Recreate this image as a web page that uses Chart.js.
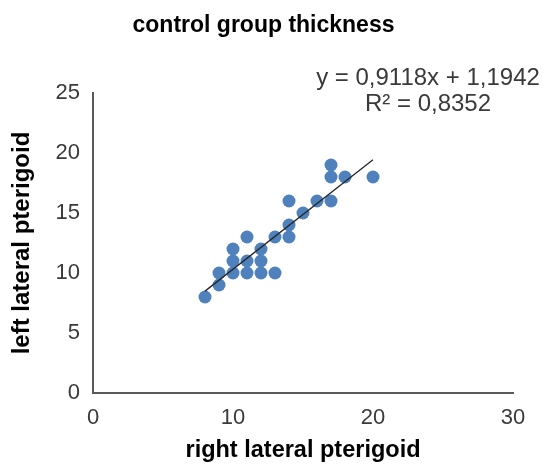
<!DOCTYPE html>
<html lang="en">
<head>
    <meta charset="UTF-8">
    <title>control group thickness</title>
    <script src="https://cdn.jsdelivr.net/npm/chart.js"></script>
    <style>
        html, body {
            margin: 0;
            padding: 0;
            background: #ffffff;
        }
        .wrap {
            width: 544px;
            height: 465px;
        }
    </style>
</head>
<body>
    <div class="wrap">
        <canvas id="scatterChart" width="544" height="465"></canvas>
    </div>

    <script>
        // values
        const rightPterigoid = [8, 9, 9, 10, 11, 12, 13, 10, 11, 12, 10, 12, 11, 13, 14, 14, 15, 14, 16, 17, 17, 18, 20, 17];
        const leftPterigoid  = [8, 9, 10, 10, 10, 10, 10, 11, 11, 11, 12, 12, 13, 13, 13, 14, 15, 16, 16, 16, 18, 18, 18, 19];

        // linear trend line ends (y = 0,9118x + 1,1942 over the data range)
        const trendX = [8, 20];
        const trendY = [8.49, 19.43];

        const xTicks = [0, 10, 20, 30];
        const yTicks = [0, 5, 10, 15, 20, 25];

        const equationLines = ['y = 0,9118x + 1,1942', 'R\u00B2 = 0,8352'];

        const points = rightPterigoid.map((x, i) => ({ x: x, y: leftPterigoid[i] }));
        const trend = trendX.map((x, i) => ({ x: x, y: trendY[i] }));

        const fontFamily = '"Liberation Sans", Arial, sans-serif';
        const axisColor = '#595959';
        const textColor = '#3a3a3a';

        // draws the trend line equation at the top right
        const equationLabel = {
            id: 'equationLabel',
            afterDraw(chart) {
                const ctx = chart.ctx;
                ctx.save();
                ctx.font = '24px ' + fontFamily;
                ctx.fillStyle = textColor;
                ctx.textAlign = 'center';
                ctx.textBaseline = 'middle';
                ctx.fillText(equationLines[0], 428, 78);
                ctx.fillText(equationLines[1], 428, 104);
                ctx.restore();
            }
        };

        const ctx = document.getElementById('scatterChart').getContext('2d');
        new Chart(ctx, {
            type: 'scatter',
            data: {
                datasets: [
                    {
                        label: 'left lateral pterigoid',
                        data: points,
                        backgroundColor: '#4f81bd',
                        borderWidth: 0,
                        pointRadius: 6.5,
                        order: 2
                    },
                    {
                        label: 'Linear trend',
                        type: 'line',
                        data: trend,
                        borderColor: '#262626',
                        borderWidth: 1.3,
                        pointRadius: 0,
                        fill: false,
                        order: 1
                    }
                ]
            },
            options: {
                responsive: false,
                animation: false,
                layout: {
                    // left padding moves the title to the right, y scale width makes up for it
                    padding: { left: 14, right: 31, top: 0, bottom: 0 }
                },
                plugins: {
                    legend: { display: false },
                    tooltip: { enabled: false },
                    title: {
                        display: true,
                        text: 'control group thickness',
                        color: '#000000',
                        font: { family: fontFamily, size: 23, weight: 'bold', lineHeight: 1.2 },
                        padding: { top: 12, bottom: 53.4 }
                    }
                },
                scales: {
                    x: {
                        type: 'linear',
                        min: 0,
                        max: 30,
                        afterBuildTicks(scale) {
                            scale.ticks = xTicks.map(v => ({ value: v }));
                        },
                        afterFit(scale) {
                            scale.height = 72;
                        },
                        grid: { display: false, drawTicks: false },
                        border: { display: true, color: axisColor, width: 2 },
                        ticks: {
                            color: textColor,
                            padding: 12,
                            font: { family: fontFamily, size: 22 }
                        },
                        title: {
                            display: true,
                            text: 'right lateral pterigoid',
                            color: '#000000',
                            padding: { top: 0, bottom: 0 },
                            font: { family: fontFamily, size: 23.5, weight: 'bold', lineHeight: 1.2 }
                        }
                    },
                    y: {
                        type: 'linear',
                        min: 0,
                        max: 25,
                        afterBuildTicks(scale) {
                            scale.ticks = yTicks.map(v => ({ value: v }));
                        },
                        afterFit(scale) {
                            scale.width = 79;
                        },
                        grid: { display: false, drawTicks: false },
                        border: { display: true, color: axisColor, width: 2 },
                        ticks: {
                            color: textColor,
                            padding: 13,
                            font: { family: fontFamily, size: 22 }
                        },
                        title: {
                            display: true,
                            text: 'left lateral pterigoid',
                            color: '#000000',
                            padding: { top: -6, bottom: 0 },
                            font: { family: fontFamily, size: 24, weight: 'bold', lineHeight: 1.2 }
                        }
                    }
                }
            },
            plugins: [equationLabel]
        });
    </script>
</body>
</html>
